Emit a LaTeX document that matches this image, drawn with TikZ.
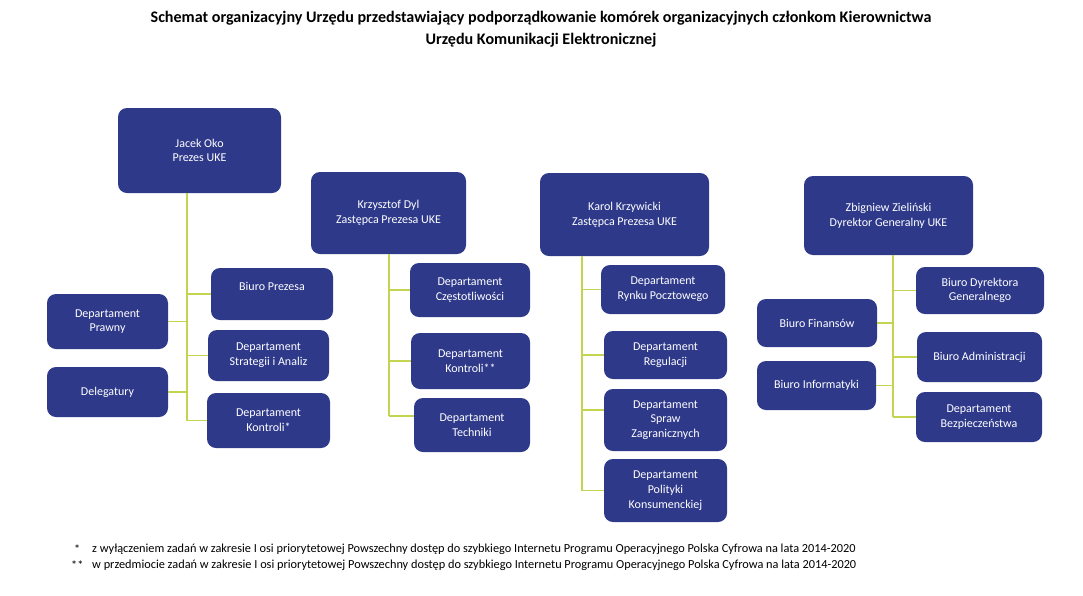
\documentclass[tikz,border=0pt]{standalone}
\usepackage{fontspec}
\setmainfont{Carlito}
\definecolor{boxblue}{RGB}{46,57,138}
\definecolor{linegreen}{RGB}{196,211,80}
\begin{document}
\begin{tikzpicture}[x=1pt,y=-1pt,
  box/.style={fill=boxblue,draw=none,rounded corners=9pt,text=white,align=center,
    font=\fontsize{12}{14.7}\selectfont,inner sep=0pt},
  conn/.style={draw=linegreen,line width=1.6pt},
  title/.style={font=\bfseries\fontsize{16.1}{22}\selectfont,align=center},
  note/.style={font=\fontsize{12.3}{14}\selectfont,anchor=west,inner sep=0pt}]
\useasboundingbox[fill=white] (0,0) rectangle (1083,595);
\node[title] (t) at (541,29) {Schemat organizacyjny Urzędu przedstawiający podporządkowanie komórek organizacyjnych członkom Kierownictwa\\Urzędu Komunikacji Elektronicznej};
% Prezes
\node[box,minimum width=163pt,minimum height=85pt] (jo) at (199.5,150.5) {Jacek Oko\\Prezes UKE};
\node[box,minimum width=122pt,minimum height=52pt] (bp) at (272,294) {Biuro Prezesa\\\mbox{}};
\node[box,minimum width=121pt,minimum height=55pt] (dp) at (107.5,321.5) {Departament\\Prawny};
\node[box,minimum width=121pt,minimum height=51pt] (dsa) at (268.5,355.5) {Departament\\Strategii i Analiz};
\node[box,minimum width=121pt,minimum height=50pt] (del) at (107.5,392) {Delegatury};
\node[box,minimum width=123pt,minimum height=55pt] (dk) at (268.5,420.5) {Departament\\Kontroli*};
% Dyl
\node[box,minimum width=155pt,minimum height=82pt] (kd) at (388.5,213) {Krzysztof Dyl\\Zastępca Prezesa UKE};
\node[box,minimum width=120pt,minimum height=54pt] (dc) at (470,290) {Departament\\Częstotliwości};
\node[box,minimum width=119pt,minimum height=56pt] (dkk) at (470.5,361) {Departament\\Kontroli**};
\node[box,minimum width=116pt,minimum height=54pt] (dt) at (472,425) {Departament\\Techniki};
% Krzywicki
\node[box,minimum width=169pt,minimum height=83pt] (kk) at (624.5,214.5) {Karol Krzywicki\\Zastępca Prezesa UKE};
\node[box,minimum width=124pt,minimum height=49pt] (drp) at (663,289.5) {Departament\\Rynku Pocztowego};
\node[box,minimum width=123pt,minimum height=48pt] (dr) at (665.5,355) {Departament\\Regulacji};
\node[box,minimum width=123pt,minimum height=62pt] (dsz) at (665.5,420) {Departament\\Spraw\\Zagranicznych};
\node[box,minimum width=123pt,minimum height=63pt] (dpk) at (665.5,490.5) {Departament\\Polityki\\Konsumenckiej};
% Zielinski
\node[box,minimum width=169pt,minimum height=79pt] (zz) at (888.5,215.5) {Zbigniew Zieliński\\Dyrektor Generalny UKE};
\node[box,minimum width=128pt,minimum height=47pt] (bdg) at (980,290.5) {Biuro Dyrektora\\Generalnego};
\node[box,minimum width=120pt,minimum height=48pt] (bf) at (817,323) {Biuro Finansów};
\node[box,minimum width=125pt,minimum height=50pt] (ba) at (979.5,357) {Biuro Administracji};
\node[box,minimum width=119pt,minimum height=49pt] (bi) at (816.5,385.5) {Biuro Informatyki};
\node[box,minimum width=126pt,minimum height=50pt] (db) at (979,417) {Departament\\Bezpieczeństwa};
% buses
\coordinate (jb) at (187,0);
\coordinate (kb) at (389,0);
\coordinate (pb) at (582,0);
\coordinate (zb) at (893,0);
\coordinate (dtw) at ([yshift=9pt]dt.west);
\coordinate (dszw) at ([yshift=10pt]dsz.west);
\draw[conn] (jb |- jo.south) -- (jb |- dk.west);
\draw[conn] (jb |- bp.west) -- (bp.west);
\draw[conn] (jb |- dsa.west) -- (dsa.west);
\draw[conn] (jb |- dk.west) -- (dk.west);
\draw[conn] (dp.east) -- (jb |- dp.east);
\draw[conn] (del.east) -- (jb |- del.east);
\draw[conn] (kb |- kd.south) -- (kb |- dtw);
\draw[conn] (kb |- dc.west) -- (dc.west);
\draw[conn] (kb |- dkk.west) -- (dkk.west);
\draw[conn] (kb |- dtw) -- (dtw);
\draw[conn] (pb |- kk.south) -- (pb |- dpk.west);
\draw[conn] (pb |- drp.west) -- (drp.west);
\draw[conn] (pb |- dr.west) -- (dr.west);
\draw[conn] (pb |- dszw) -- (dszw);
\draw[conn] (pb |- dpk.west) -- (dpk.west);
\draw[conn] (zb |- zz.south) -- (zb |- db.west);
\draw[conn] (zb |- bdg.west) -- (bdg.west);
\draw[conn] (zb |- ba.west) -- (ba.west);
\draw[conn] (zb |- db.west) -- (db.west);
\draw[conn] (bf.east) -- (zb |- bf.east);
\draw[conn] (bi.east) -- (zb |- bi.east);
% notes
\node[note] (s1) at (74,549) {*};
\node[note] (n1) at (92,549) {z wyłączeniem zadań w zakresie I osi priorytetowej Powszechny dostęp do szybkiego Internetu Programu Operacyjnego Polska Cyfrowa na lata 2014-2020};
\node[note] (s2) at (71,565) {**};
\node[note] (n2) at (92,565) {w przedmiocie zadań w zakresie I osi priorytetowej Powszechny dostęp do szybkiego Internetu Programu Operacyjnego Polska Cyfrowa na lata 2014-2020};
\end{tikzpicture}
\end{document}
